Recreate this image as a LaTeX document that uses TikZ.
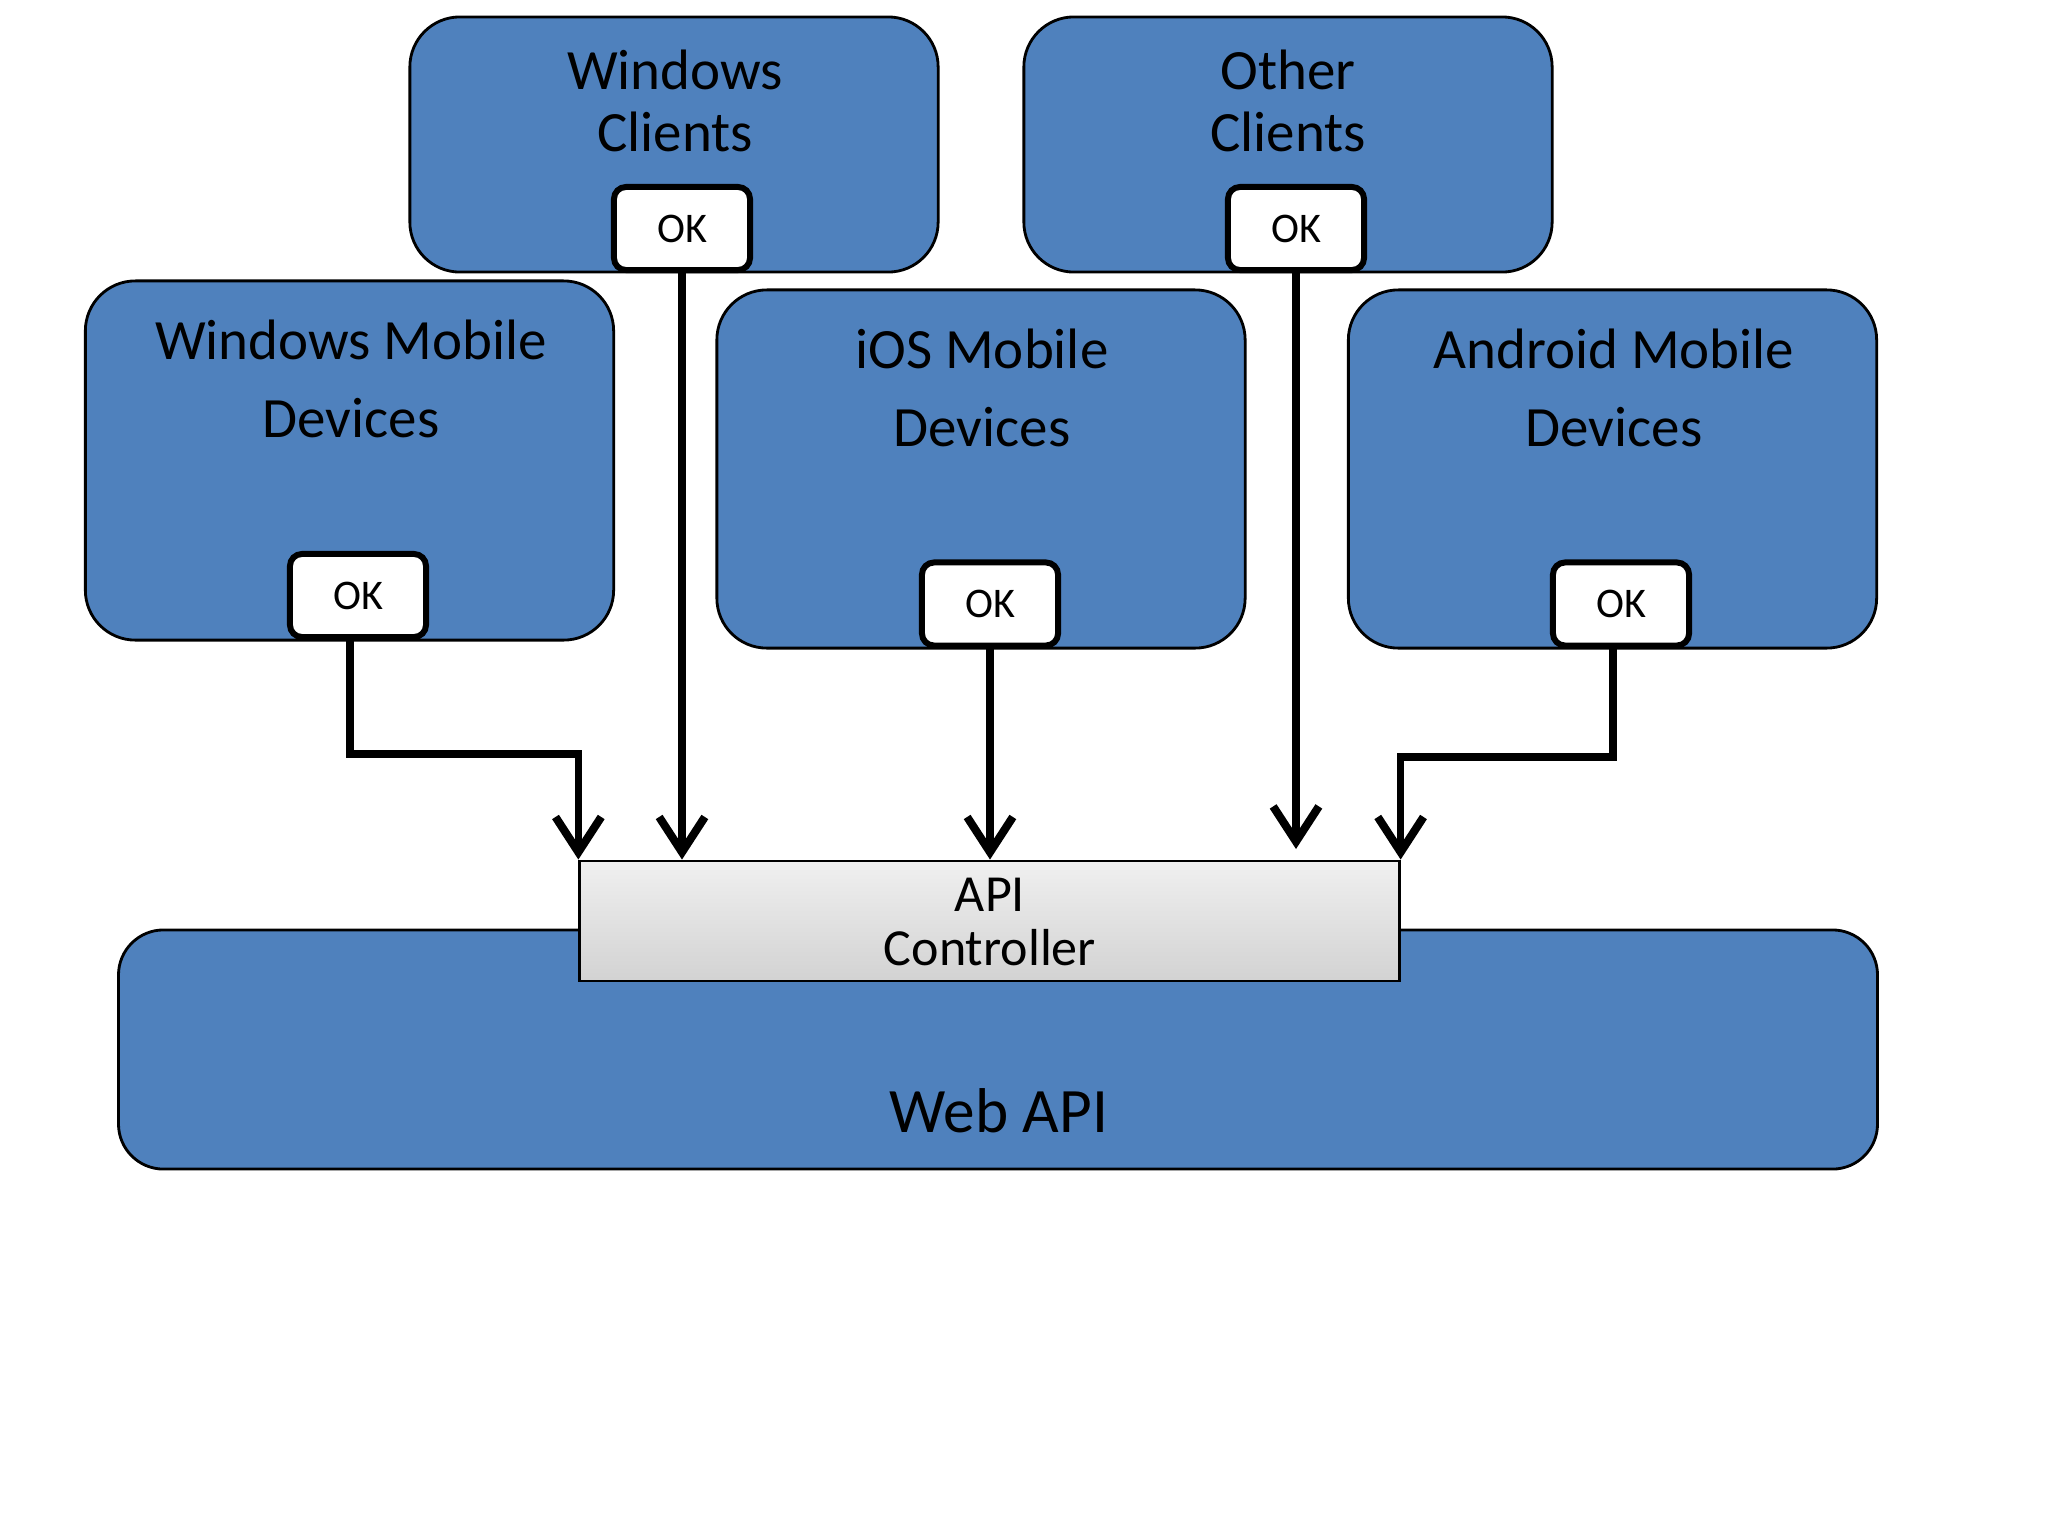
\documentclass[tikz,border=0pt]{standalone}
\usepackage{fontspec}
\setmainfont{Carlito}
\usetikzlibrary{arrows.meta}
\definecolor{boxblue}{HTML}{4F81BD}
\begin{document}
\begin{tikzpicture}[x=0.01cm,y=-0.01cm,
  blk/.style={draw=black, line width=0.8pt, fill=boxblue, rounded corners=0.5cm, minimum width=5.28cm, inner sep=0pt},
  okbox/.style={draw=black, line width=1.7pt, fill=white, rounded corners=0.12cm, minimum width=1.36cm, minimum height=0.83cm, inner sep=0pt, font=\fontsize{12}{14}\selectfont},
  ttl/.style={align=center, font=\fontsize{16.2}{17.4}\selectfont},
  ttlb/.style={align=center, font=\fontsize{16.2}{22}\selectfont},
  conn/.style={line width=2.1pt, -{Straight Barb[length=10pt,width=13pt,line width=2.3pt]}},
]
\fill[white] (0,0) rectangle (2048,1536);
\useasboundingbox (0,0) rectangle (2048,1536);

% Web API and controller
\node[blk, minimum width=17.58cm, minimum height=2.39cm, rounded corners=0.45cm] (web) at (998,1049.5) {};
\node[font=\fontsize{18}{20}\selectfont] (webt) at (999,1111) {Web API};
\node[draw=black, line width=0.8pt, top color=gray!12, bottom color=gray!35, minimum width=8.19cm, minimum height=1.2cm, inner sep=0pt] (ctrl) at (989.5,921) {};
\node[align=center, font=\fontsize{14.8}{15.6}\selectfont] (ctrlt) at (990,922) {API\\Controller};

% client boxes
\node[blk, minimum height=2.55cm] (wc) at (674,144.5) {};
\node[ttl] (wct) at (675,101) {Windows\\Clients};
\node[blk, minimum height=2.55cm] (oc) at (1288,144.5) {};
\node[ttl] (oct) at (1288,101) {Other\\Clients};

\node[blk, minimum height=3.59cm] (wmd) at (349.5,460.5) {};
\node[ttlb] (wmdt) at (351,379) {Windows Mobile\\Devices};
\node[blk, minimum height=3.58cm] (ios) at (981,469) {};
\node[ttlb] (iost) at (982,388) {iOS Mobile\\Devices};
\node[blk, minimum height=3.58cm] (and) at (1612.5,469) {};
\node[ttlb] (andt) at (1614,388) {Android Mobile\\Devices};

% OK boxes
\node[okbox] (okwc) at (682,228.5) {OK};
\node[okbox] (okoc) at (1296,228.5) {OK};
\node[okbox] (okwmd) at (358,595.5) {OK};
\node[okbox] (okios) at (990,604) {OK};
\node[okbox] (okand) at (1621,604) {OK};

% targets
\coordinate (tocstop) at (1296,849);

% connectors
\draw[conn] (okwmd.south -| 350,0) |- (ctrl.north west |- 0,754) -- (ctrl.north west);
\draw[conn] (okwc.south) -- (okwc.south |- ctrl.north);
\draw[conn] (okios.south) -- (ctrl.north -| okios.south);
\draw[conn] (okoc.south) -- (tocstop);
\draw[conn] (okand.south -| 1613,0) |- (ctrl.north east |- 0,757) -- (ctrl.north east);
\end{tikzpicture}
\end{document}
